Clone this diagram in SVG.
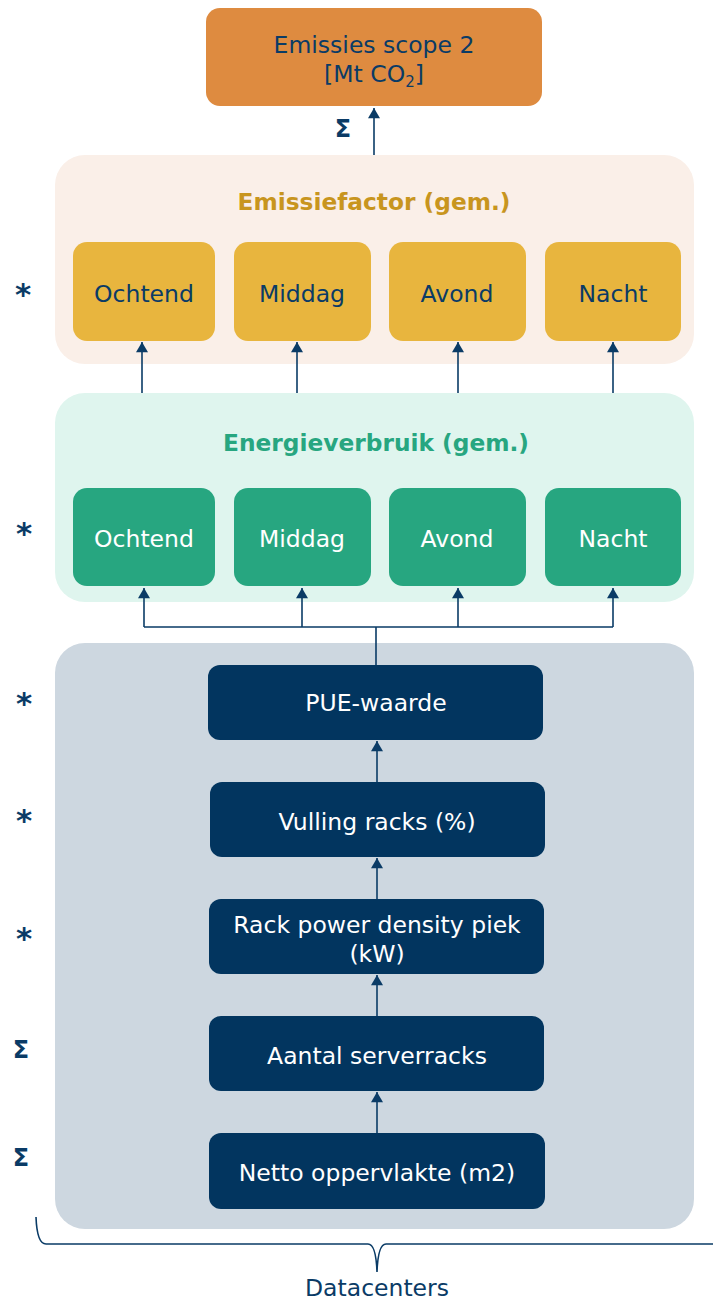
<svg xmlns="http://www.w3.org/2000/svg" width="713" height="1300" viewBox="0 0 713 1300">
<style>
text{font-family:"DejaVu Sans","Verdana",sans-serif;text-anchor:middle;}
.lbl{font-size:23.5px;}
.navy{fill:#0A3B66;}
.white{fill:#FFFFFF;}
.title{font-size:23.3px;font-weight:bold;}
.side{font-size:31px;font-weight:bold;fill:#0A3B66;}
.sig{font-size:24px;font-weight:bold;fill:#0A3B66;}
.con{fill:none;stroke:#0A3B66;stroke-width:1.6;}
.ef{fill:#E8B53E;}
.ev{fill:#27A680;}
.dc{fill:#02355F;}
</style>
<defs>
<marker id="ah2" viewBox="0 0 12 14" refX="12" refY="7" markerWidth="14" markerHeight="12" markerUnits="userSpaceOnUse" orient="auto">
<path d="M0,0 L12,7 L0,14 Z" fill="#0A3B66"/>
</marker>
</defs>

<g id="containers">
<rect id="emissiefactor-group" x="55" y="155" width="639" height="209" rx="30" fill="#FAEFE8"/>
<rect id="energie-group" x="55" y="393" width="639" height="209" rx="30" fill="#DFF5EE"/>
<rect id="datacenter-group" x="55" y="643" width="639" height="586" rx="30" fill="#CDD7E0"/>
<text x="374" y="210" class="title" fill="#C8951E">Emissiefactor (gem.)</text>
<text x="376" y="451" class="title" fill="#27A680">Energieverbruik (gem.)</text>
</g>

<g id="connectors">
<path class="con" d="M374,155 V108" marker-end="url(#ah2)"/>
<path class="con" d="M142,393 V342" marker-end="url(#ah2)"/>
<path class="con" d="M297,393 V342" marker-end="url(#ah2)"/>
<path class="con" d="M458,393 V342" marker-end="url(#ah2)"/>
<path class="con" d="M613,393 V342" marker-end="url(#ah2)"/>
<path class="con" d="M376,665 V627 M144,627 H613"/>
<path class="con" d="M144,627 V588" marker-end="url(#ah2)"/>
<path class="con" d="M302,627 V588" marker-end="url(#ah2)"/>
<path class="con" d="M458,627 V588" marker-end="url(#ah2)"/>
<path class="con" d="M613,627 V588" marker-end="url(#ah2)"/>
<path class="con" d="M377,782 V741" marker-end="url(#ah2)"/>
<path class="con" d="M377,899 V858" marker-end="url(#ah2)"/>
<path class="con" d="M377,1016 V975" marker-end="url(#ah2)"/>
<path class="con" d="M377,1133 V1092" marker-end="url(#ah2)"/>
<path class="con" d="M36,1217 Q37,1244 46,1244 L368,1244 Q376,1244 377,1272 Q378,1244 386,1244 L713,1244"/>
</g>

<g id="n-emissies">
<rect x="206" y="8" width="336" height="98" rx="14" fill="#DE8B40"/>
<text x="374" y="53" class="lbl navy">Emissies scope 2</text>
<text x="374" y="82" class="lbl navy">[Mt CO<tspan font-size="15" dy="5">2</tspan><tspan dy="-5">]</tspan></text>
</g>

<g id="n-ef-ochtend"><rect x="73" y="242" width="142" height="99" rx="14" class="ef"/><text x="144" y="302" class="lbl navy">Ochtend</text></g>
<g id="n-ef-middag"><rect x="234" y="242" width="137" height="99" rx="14" class="ef"/><text x="302" y="302" class="lbl navy">Middag</text></g>
<g id="n-ef-avond"><rect x="389" y="242" width="137" height="99" rx="14" class="ef"/><text x="457" y="302" class="lbl navy">Avond</text></g>
<g id="n-ef-nacht"><rect x="545" y="242" width="136" height="99" rx="14" class="ef"/><text x="613" y="302" class="lbl navy">Nacht</text></g>

<g id="n-ev-ochtend"><rect x="73" y="488" width="142" height="98" rx="14" class="ev"/><text x="144" y="547" class="lbl white">Ochtend</text></g>
<g id="n-ev-middag"><rect x="234" y="488" width="137" height="98" rx="14" class="ev"/><text x="302" y="547" class="lbl white">Middag</text></g>
<g id="n-ev-avond"><rect x="389" y="488" width="137" height="98" rx="14" class="ev"/><text x="457" y="547" class="lbl white">Avond</text></g>
<g id="n-ev-nacht"><rect x="545" y="488" width="136" height="98" rx="14" class="ev"/><text x="613" y="547" class="lbl white">Nacht</text></g>

<g id="n-pue"><rect x="208" y="665" width="335" height="75" rx="12" class="dc"/><text x="376" y="711" class="lbl white">PUE-waarde</text></g>
<g id="n-vulling"><rect x="210" y="782" width="335" height="75" rx="12" class="dc"/><text x="377" y="830" class="lbl white">Vulling racks (%)</text></g>
<g id="n-rack"><rect x="209" y="899" width="335" height="75" rx="12" class="dc"/><text x="377" y="933" class="lbl white">Rack power density piek</text><text x="377" y="962" class="lbl white">(kW)</text></g>
<g id="n-aantal"><rect x="209" y="1016" width="335" height="75" rx="12" class="dc"/><text x="377" y="1064" class="lbl white">Aantal serverracks</text></g>
<g id="n-netto"><rect x="209" y="1133" width="336" height="76" rx="12" class="dc"/><text x="377" y="1181" class="lbl white">Netto oppervlakte (m2)</text></g>

<g id="side-labels">
<text x="343" y="137" class="sig">Σ</text>
<text x="23" y="305" class="side">*</text>
<text x="24" y="544" class="side">*</text>
<text x="24" y="714" class="side">*</text>
<text x="24" y="831" class="side">*</text>
<text x="24" y="949" class="side">*</text>
<text x="21" y="1058" class="sig">Σ</text>
<text x="21" y="1166" class="sig">Σ</text>
<text x="377" y="1296" class="lbl navy">Datacenters</text>
</g>
</svg>
